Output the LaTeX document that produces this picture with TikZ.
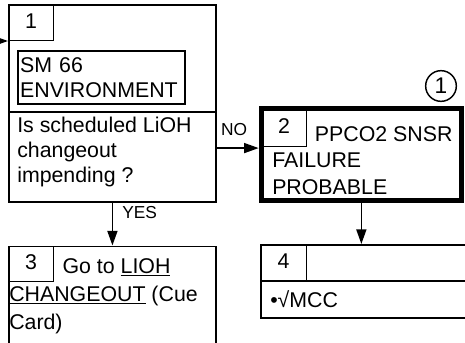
\documentclass[tikz,border=0pt]{standalone}
\usepackage{fontspec}
\setmainfont{Liberation Sans}
\usepackage{tikz}
\usetikzlibrary{arrows.meta,positioning,calc}

\begin{document}
\begin{tikzpicture}[x=0.75pt, y=-0.75pt,
    box/.style={draw, line width=1.4pt, inner sep=0pt},
    cell/.style={draw, line width=1pt, inner sep=0pt, text depth=3pt,
                 font=\fontsize{16}{20}\selectfont},
    txt/.style={inner sep=0pt, align=left},
    lbl/.style={inner sep=0pt, font=\fontsize{13}{15}\selectfont},
    arr/.style={-{Triangle[length=11pt, width=7.5pt]}, line width=1.3pt},
  ]
  \useasboundingbox (0,0) rectangle (465,343);

  % Box 1
  \node[box, anchor=north west, minimum width=155.25pt, minimum height=147.75pt]
    (box1) at (8,4) {};
  \node[cell, anchor=north west, minimum width=33.75pt, minimum height=27pt]
    (cell1) at (8,4) {1};
  \node[box, line width=1.7pt, anchor=north west, align=left, text width=122pt,
        minimum height=39.75pt, inner xsep=1.5pt, font=\fontsize{16}{18.5}\selectfont]
    (env) at (17,50) {SM 66\\ENVIRONMENT};
  \coordinate (div1) at (8,112);
  \draw[line width=1.4pt] (div1) -- (div1 -| box1.east);
  \node[txt, anchor=north west, font=\fontsize{16}{18.75}\selectfont]
    (ask) at (17,117) {Is scheduled LiOH\\changeout\\impending ?};

  % Box 2
  \node[box, line width=3.6pt, anchor=north west, minimum width=150.4pt,
        minimum height=68.9pt] (box2) at (258.7,106.4) {};
  \node[cell, anchor=north west, minimum width=33.75pt, minimum height=28pt]
    (cell2) at (261,108.7) {2};
  \node[txt, anchor=north west, font=\fontsize{16}{20}\selectfont]
    (fail) at (272,126) {\hspace*{32pt}PPCO2 SNSR\\FAILURE\\PROBABLE};
  \node[circle, draw, line width=1.1pt, minimum size=23pt, inner sep=0pt,
        font=\fontsize{17}{20}\selectfont] (mark) at (441,86) {1};

  % Box 3
  \node[box, anchor=north west, minimum width=155.6pt, minimum height=90pt]
    (box3) at (8,245.5) {};
  \node[cell, anchor=north west, minimum width=33.75pt, minimum height=26.6pt]
    (cell3) at (8,245.5) {3};
  \node[txt, anchor=north west, font=\fontsize{16}{21}\selectfont]
    (goto) at (9,258) {\hspace*{40pt}Go to \underline{LIOH}\\\underline{CHANGEOUT} (Cue\\Card)};

  % Box 4
  \node[box, anchor=north west, minimum width=180pt, minimum height=54.75pt]
    (box4) at (260,244) {};
  \node[cell, anchor=north west, minimum width=34.5pt, minimum height=27pt]
    (cell4) at (260,244) {4};
  \draw[line width=1.4pt] (cell4.south west) -- (cell4.south -| box4.east);
  \node[txt, anchor=west, font=\fontsize{16}{20}\selectfont]
    (mcc) at (270,299) {•√MCC};

  % Arrows
  \coordinate (entry) at (-12,41);
  \draw[arr] (entry) -- (entry -| box1.west);
  \coordinate (noin) at ([yshift=5pt]box2.west);
  \draw[arr] (noin -| box1.east) -- (noin);
  \node[lbl] (no) at (234,130) {NO};
  \draw[arr] (box1.south) -- (box1.south |- box3.north);
  \node[lbl, anchor=west] (yes) at (122,213) {YES};
  \draw[arr] (box2.south) -- (box2.south |- box4.north);
\end{tikzpicture}
\end{document}
